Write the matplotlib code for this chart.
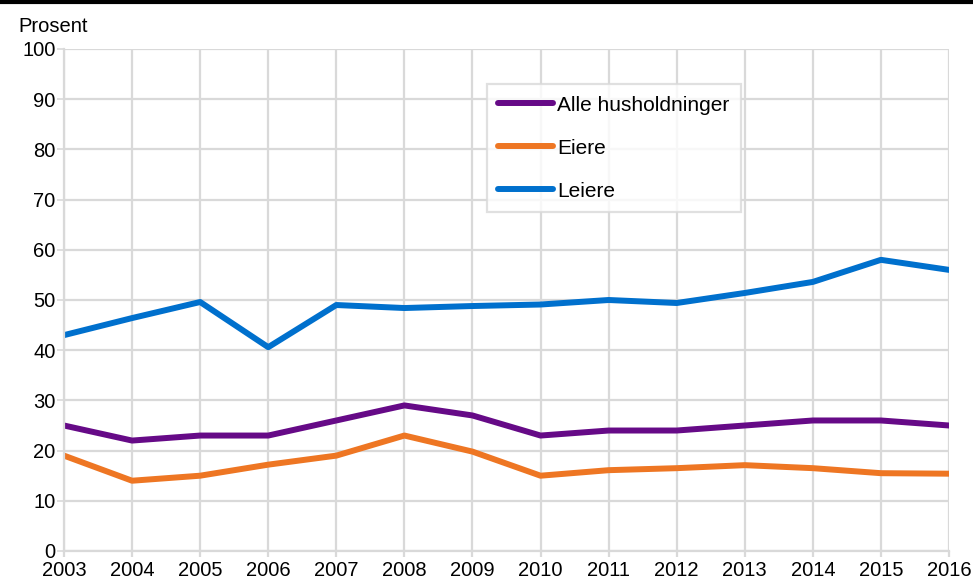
import matplotlib
matplotlib.use("Agg")
import matplotlib.pyplot as plt
from matplotlib.lines import Line2D

plt.rcParams["font.family"] = ["Liberation Sans", "DejaVu Sans"]

years = list(range(2003, 2017))
alle = [25, 22, 23, 23, 26, 29, 27, 23, 24, 24, 25, 26, 26, 25]
eiere = [19, 14, 15, 17.2, 19, 23, 19.8, 15, 16.1, 16.5, 17.1, 16.5, 15.5, 15.4]
leiere = [43, 46.4, 49.6, 40.6, 49, 48.4, 48.8, 49.1, 50, 49.4, 51.4, 53.6, 58, 56]

grid_col = "#D9D9D9"

fig = plt.figure(figsize=(9.73, 5.78), dpi=100)
ax = fig.add_axes([64 / 973, 1 - 551 / 578, 885 / 973, 502 / 578])

ax.plot(years, alle, color="#660A87", lw=4.3, label="Alle husholdninger", solid_capstyle="round")
ax.plot(years, eiere, color="#EE7623", lw=4.3, label="Eiere", solid_capstyle="round")
ax.plot(years, leiere, color="#0070CD", lw=4.3, label="Leiere", solid_capstyle="round")

ax.set_xlim(2003, 2016)
ax.set_ylim(0, 100)
ax.set_xticks(years)
ax.set_yticks(range(0, 101, 10))
ax.grid(True, color=grid_col, lw=1.6)
ax.set_axisbelow(True)
for side in ["top", "right"]:
    ax.spines[side].set_visible(False)
for side in ["left", "bottom"]:
    ax.spines[side].set_color(grid_col)
    ax.spines[side].set_linewidth(1.6)
ax.tick_params(axis="y", length=5, color=grid_col, width=1.2, labelsize=14.5, pad=1)
ax.tick_params(axis="x", length=4, color=grid_col, width=1.6, labelsize=14.5, pad=3)

leg = ax.legend(loc="upper left", bbox_to_anchor=(0.478, 0.93), fontsize=15,
                frameon=True, fancybox=False, edgecolor=grid_col,
                handlelength=2.6, handletextpad=0.2, labelspacing=1.15,
                borderpad=0.55, borderaxespad=0)
leg.get_frame().set_linewidth(1.6)

fig.text(18 / 973, 1 - 27 / 578, "Prosent", fontsize=14.5, va="center", ha="left")
fig.add_artist(Line2D([0, 1], [1 - 1.5 / 578, 1 - 1.5 / 578], color="black", lw=3,
                      transform=fig.transFigure))

fig.savefig("out.png", dpi=100)
